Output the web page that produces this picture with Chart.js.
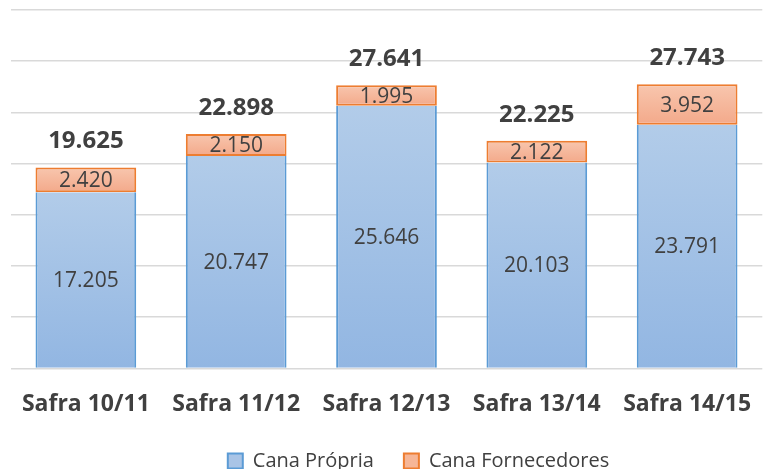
<!DOCTYPE html>
<html><head><meta charset="utf-8">
<script src="https://cdn.jsdelivr.net/npm/chart.js@4/dist/chart.umd.min.js"></script>
<style>
html,body{margin:0;padding:0;overflow:hidden;background:#fff;}
#wrap{width:773px;height:481px;position:relative;}
</style></head><body>
<div id="wrap"><canvas id="c"></canvas></div>
<script>
const categories = ['Safra 10/11','Safra 11/12','Safra 12/13','Safra 13/14','Safra 14/15'];
const canaPropria = [17205, 20747, 25646, 20103, 23791];
const canaFornecedores = [2420, 2150, 1995, 2122, 3952];
const totals = [19625, 22898, 27641, 22225, 27743];
const seriesNames = ['Cana Própria', 'Cana Fornecedores'];
const yMax = 35000, yStep = 5000;

function fmt(v){ return String(v).replace(/\B(?=(\d{3})+(?!\d))/g, '.'); }

function barGradient(ctx, lowVal, highVal, cTop, cBot, fallback){
  const chart = ctx.chart;
  const y = chart.scales && chart.scales.y;
  if (!chart.chartArea || !y || ctx.type !== 'data') return fallback;
  const top = y.getPixelForValue(highVal);
  const bot = y.getPixelForValue(lowVal);
  if (!isFinite(top) || !isFinite(bot) || top === bot) return fallback;
  const g = chart.ctx.createLinearGradient(0, top, 0, bot);
  g.addColorStop(0, cTop); g.addColorStop(1, cBot);
  return g;
}

Chart.defaults.font.family = '"Open Sans", sans-serif';

const labelPlugin = {
  id: 'valueLabels',
  afterDatasetsDraw(chart){
    const c = chart.ctx;
    c.save();
    c.textAlign = 'center'; c.textBaseline = 'middle'; c.fillStyle = '#404040';
    c.font = '21px "Open Sans"';
    [0,1].forEach(di => {
      const meta = chart.getDatasetMeta(di);
      meta.data.forEach((bar, i) => {
        const v = chart.data.datasets[di].data[i];
        c.fillText(fmt(v), bar.x, (bar.y + bar.base) / 2 + 1);
      });
    });
    c.font = 'bold 24px "Open Sans"';
    chart.getDatasetMeta(1).data.forEach((bar, i) => {
      c.fillText(fmt(totals[i]), bar.x, bar.y - 26);
    });
    c.restore();
  }
};

const legendShift = {
  id: 'legendShift',
  afterLayout(chart){
    if (chart.legend){ chart.legend.left += 27; chart.legend.right += 27; }
  }
};

new Chart(document.getElementById('c'), {
  type: 'bar',
  data: {
    labels: categories,
    datasets: [
      {
        label: seriesNames[0],
        data: canaPropria,
        backgroundColor: (ctx) => barGradient(ctx, 0, canaPropria[ctx.dataIndex], '#b2cce9', '#92b6e2', '#a9c4e6'),
        borderColor: '#5b9bd5',
        borderWidth: {left: 2, right: 2, top: 0, bottom: 0},
        borderSkipped: 'start'
      },
      {
        label: seriesNames[1],
        data: canaFornecedores,
        backgroundColor: (ctx) => barGradient(ctx, canaPropria[ctx.dataIndex], canaPropria[ctx.dataIndex] + canaFornecedores[ctx.dataIndex], '#f8c6ae', '#f3a98a', '#f6b697'),
        borderColor: '#ed7d31',
        borderWidth: 2,
        borderSkipped: false
      }
    ]
  },
  options: {
    responsive: true,
    maintainAspectRatio: false,
    animation: false,
    layout: { padding: { top: 10, left: 10, right: 0, bottom: 0 } },
    datasets: { bar: { categoryPercentage: 1, barPercentage: 0.67 } },
    scales: {
      x: {
        stacked: true,
        grid: { display: false, drawTicks: false },
        border: { display: false },
        ticks: { color: '#404040', font: { size: 23, weight: 'bold' }, padding: 22 },
        afterFit(scale){ scale.height -= 19; }
      },
      y: {
        stacked: true,
        min: 0, max: yMax,
        ticks: { display: false, stepSize: yStep },
        grid: { color: '#d9d9d9', lineWidth: 1.5, drawTicks: false },
        border: { display: false }
      }
    },
    plugins: {
      tooltip: { enabled: false },
      legend: {
        position: 'bottom',
        labels: {
          color: '#404040',
          font: { size: 20 },
          boxWidth: 15, boxHeight: 15,
          padding: 30,
          generateLabels(chart){
            const fills = ['#a9c4e6', '#f6b697'];
            const strokes = ['#5b9bd5', '#ed7d31'];
            return chart.data.datasets.map((ds, i) => ({
              text: ds.label, fillStyle: fills[i], strokeStyle: strokes[i],
              lineWidth: 2, hidden: false, datasetIndex: i, fontColor: '#404040'
            }));
          }
        }
      }
    }
  },
  plugins: [labelPlugin, legendShift]
});
</script>
</body></html>
